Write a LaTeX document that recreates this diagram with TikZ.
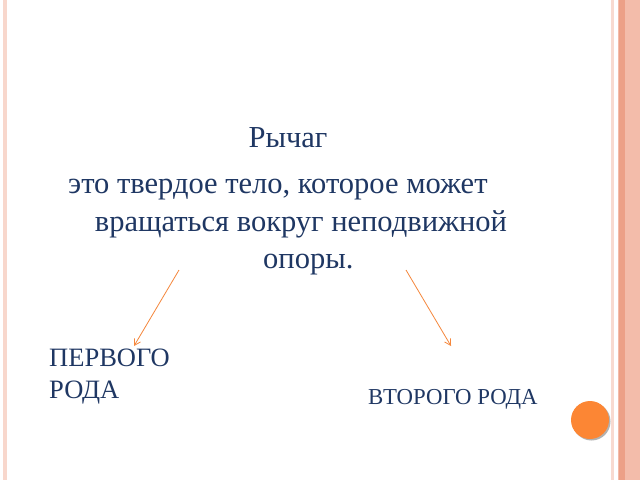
\documentclass[tikz,border=0pt]{standalone}
\usepackage{fontspec}
\setmainfont{Liberation Serif}
\usetikzlibrary{arrows.meta}
\definecolor{slidetext}{RGB}{31,55,99}
\definecolor{arroworange}{RGB}{245,135,60}
\definecolor{bandpink}{RGB}{243,188,170}
\definecolor{bandline}{RGB}{236,160,135}
\definecolor{dotorange}{RGB}{252,134,52}
\tikzset{
	bodytext/.style={font=\fontsize{30.5}{36}\selectfont, text=slidetext, inner sep=0pt},
	pointer/.style={-{Straight Barb[length=6pt,width=7pt]}, draw=arroworange, line width=0.8pt}
}
\begin{document}
\begin{tikzpicture}[x=1pt,y=1pt]
			\useasboundingbox (0,0) rectangle (640,-480);
			\fill[white] (0,0) rectangle (640,-480);
			% borders
			\fill[bandpink!60] (3,0) rectangle (7,-480);
			\fill[bandpink!55] (611,0) rectangle (614,-480);
			\fill[bandpink] (618,0) rectangle (640,-480);
			\fill[bandline] (619,0) rectangle (625,-480);
			\fill[gray!60] (591.5,-421.5) circle (19);
			\fill[dotorange] (590,-420) circle (19);
			% text
			\node[anchor=base, bodytext] (T) at (288,-147) {Рычаг};
			\node[anchor=base west, bodytext] (L1) at (68,-193) {это твердое тело, которое может};
			\node[anchor=base, bodytext] (L2) at (301,-231) {вращаться вокруг неподвижной};
			\node[anchor=base west, bodytext] (L3) at (263,-268) {опоры.};
			\node[anchor=base west, font=\fontsize{26.5}{32}\selectfont, text=slidetext, inner sep=0pt, align=left] (P) at (49,-398) {ПЕРВОГО\\РОДА};
			\node[anchor=base west, font=\fontsize{22.8}{27}\selectfont, text=slidetext, inner sep=0pt] (V) at (368,-404) {ВТОРОГО РОДА};
			\coordinate (A1) at (179,-270);
			\coordinate (B1) at (134,-346);
			\coordinate (A2) at (406,-270);
			\coordinate (B2) at (451,-346);
			\path (A1) edge[pointer] (B1)
			(A2) edge[pointer] (B2);
		\end{tikzpicture}
\end{document}
